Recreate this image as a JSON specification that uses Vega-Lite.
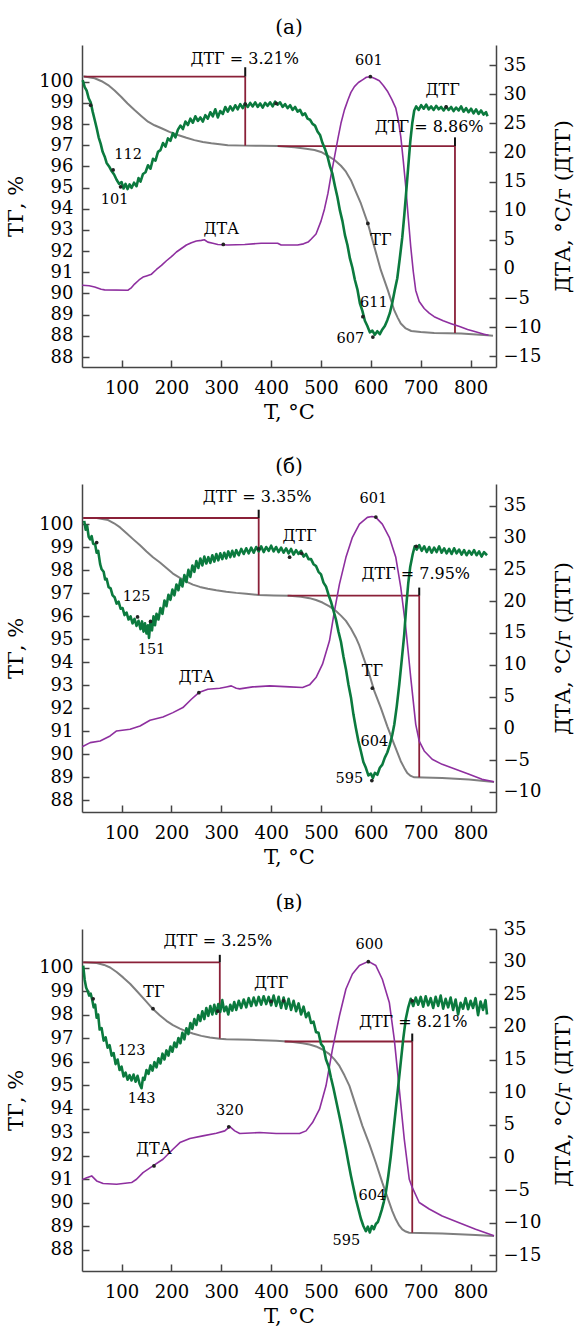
{
"$schema": "https://vega.github.io/schema/vega-lite/v6.json",
"background": "white",
"padding": {"left": 5, "top": 18, "right": 0, "bottom": 0},
"autosize": {"type": "pad"},
"spacing": 117,
"bounds": "flush",
"config": {
  "font": "DejaVu Serif",
  "view": {"stroke": null},
  "axis": {"domainColor": "#444", "tickColor": "#444", "domainWidth": 1.5, "tickWidth": 1.5, "labelColor": "#000", "titleColor": "#000", "labelFontSize": 18, "titleFontSize": 21, "titleFontWeight": "normal", "tickSize": -7, "grid": false, "labelFont": "DejaVu Serif", "titleFont": "DejaVu Serif", "labelOverlap": false, "labelBound": false, "labelFlush": false, "tickCount": 60, "format": "d"},
  "axisX": {"labelPadding": 19, "titlePadding": 4},
  "axisLeft": {"labelPadding": 16, "titlePadding": 12},
  "axisRight": {"labelPadding": 14, "titlePadding": 12, "titleAngle": 270, "titleBaseline": "top"},
  "title": {"fontSize": 20, "fontWeight": "normal", "font": "DejaVu Serif", "color": "#000", "frame": "group", "anchor": "middle", "offset": 7},
  "text": {"font": "DejaVu Serif", "color": "#000", "baseline": "middle"},
  "line": {"strokeJoin": "round"}
},
"datasets": {
"a_tg": [{"T":22,"v":100.24},{"T":25,"v":100.24},{"T":46,"v":100.16},{"T":60,"v":100.02},{"T":73,"v":99.84},{"T":86,"v":99.58},{"T":99,"v":99.29},{"T":112,"v":98.97},{"T":126,"v":98.66},{"T":140,"v":98.37},{"T":153,"v":98.11},{"T":166,"v":97.94},{"T":180,"v":97.8},{"T":196,"v":97.63},{"T":213,"v":97.48},{"T":230,"v":97.35},{"T":246,"v":97.24},{"T":263,"v":97.15},{"T":280,"v":97.09},{"T":297,"v":97.04},{"T":313,"v":97.0},{"T":347,"v":96.98},{"T":380,"v":96.97},{"T":413,"v":96.96},{"T":447,"v":96.9},{"T":470,"v":96.83},{"T":487,"v":96.77},{"T":500,"v":96.68},{"T":514,"v":96.5},{"T":527,"v":96.3},{"T":540,"v":96.03},{"T":550,"v":95.75},{"T":560,"v":95.35},{"T":570,"v":94.8},{"T":580,"v":94.25},{"T":594,"v":93.31},{"T":607,"v":92.2},{"T":620,"v":91.1},{"T":634,"v":90.16},{"T":647,"v":89.2},{"T":654,"v":88.85},{"T":660,"v":88.58},{"T":670,"v":88.35},{"T":681,"v":88.23},{"T":700,"v":88.18},{"T":727,"v":88.14},{"T":781,"v":88.11},{"T":834,"v":88.03},{"T":845,"v":88.0}],
"a_dta": [{"T":21,"v":-2.8},{"T":35,"v":-2.9},{"T":46,"v":-3.1},{"T":59,"v":-3.5},{"T":66,"v":-3.6},{"T":113,"v":-3.66},{"T":120,"v":-3.2},{"T":126,"v":-2.6},{"T":135,"v":-1.9},{"T":143,"v":-1.4},{"T":150,"v":-1.2},{"T":160,"v":-0.9},{"T":170,"v":-0.1},{"T":180,"v":0.6},{"T":190,"v":1.4},{"T":200,"v":2.1},{"T":210,"v":2.9},{"T":220,"v":3.5},{"T":230,"v":4.1},{"T":240,"v":4.5},{"T":250,"v":4.8},{"T":260,"v":4.9},{"T":266,"v":5.0},{"T":273,"v":4.6},{"T":283,"v":4.4},{"T":293,"v":4.2},{"T":313,"v":4.1},{"T":347,"v":4.2},{"T":380,"v":4.4},{"T":413,"v":4.4},{"T":420,"v":4.1},{"T":453,"v":4.1},{"T":465,"v":4.3},{"T":474,"v":4.6},{"T":480,"v":5.1},{"T":490,"v":6.0},{"T":500,"v":8.2},{"T":507,"v":10.3},{"T":514,"v":13.0},{"T":520,"v":16.0},{"T":527,"v":19.2},{"T":534,"v":22.4},{"T":540,"v":25.0},{"T":547,"v":27.3},{"T":554,"v":29.0},{"T":560,"v":30.3},{"T":567,"v":31.3},{"T":575,"v":32.0},{"T":584,"v":32.5},{"T":591,"v":32.9},{"T":599,"v":33.0},{"T":608,"v":32.7},{"T":617,"v":32.3},{"T":625,"v":31.5},{"T":634,"v":30.4},{"T":642,"v":29.1},{"T":650,"v":27.6},{"T":655,"v":25.6},{"T":660,"v":22.7},{"T":665,"v":18.6},{"T":670,"v":14.1},{"T":675,"v":8.8},{"T":680,"v":3.8},{"T":685,"v":-0.4},{"T":690,"v":-3.7},{"T":697,"v":-5.6},{"T":707,"v":-6.8},{"T":717,"v":-7.6},{"T":727,"v":-8.2},{"T":745,"v":-8.9},{"T":761,"v":-9.4},{"T":778,"v":-9.9},{"T":794,"v":-10.4},{"T":810,"v":-10.8},{"T":827,"v":-11.2},{"T":836,"v":-11.4}],
"a_dtg": [{"T":22,"v":32.4},{"T":26,"v":31.2},{"T":30,"v":30.6},{"T":34,"v":29.3},{"T":38,"v":28.6},{"T":42,"v":27.0},{"T":46,"v":25.6},{"T":50,"v":24.2},{"T":54,"v":22.6},{"T":58,"v":21.5},{"T":62,"v":20.1},{"T":66,"v":19.3},{"T":70,"v":18.2},{"T":75,"v":17.6},{"T":80,"v":16.8},{"T":85,"v":16.2},{"T":90,"v":15.3},{"T":95,"v":14.6},{"T":100,"v":14.9},{"T":104,"v":13.8},{"T":108,"v":14.6},{"T":112,"v":13.7},{"T":116,"v":14.5},{"T":120,"v":13.9},{"T":125,"v":14.8},{"T":130,"v":14.2},{"T":134,"v":15.6},{"T":138,"v":15.0},{"T":143,"v":16.3},{"T":148,"v":16.6},{"T":153,"v":17.8},{"T":158,"v":17.2},{"T":163,"v":18.9},{"T":168,"v":18.6},{"T":173,"v":20.1},{"T":178,"v":20.4},{"T":183,"v":21.6},{"T":188,"v":21.0},{"T":193,"v":22.4},{"T":198,"v":22.0},{"T":203,"v":23.3},{"T":208,"v":22.6},{"T":213,"v":23.9},{"T":218,"v":24.6},{"T":223,"v":24.0},{"T":228,"v":25.3},{"T":233,"v":24.7},{"T":238,"v":25.8},{"T":243,"v":25.1},{"T":248,"v":26.2},{"T":253,"v":25.4},{"T":258,"v":26.0},{"T":263,"v":25.3},{"T":268,"v":26.4},{"T":273,"v":25.8},{"T":278,"v":26.9},{"T":283,"v":26.2},{"T":288,"v":27.4},{"T":293,"v":26.0},{"T":298,"v":27.1},{"T":303,"v":26.6},{"T":308,"v":27.8},{"T":313,"v":27.0},{"T":318,"v":27.9},{"T":323,"v":27.2},{"T":328,"v":28.1},{"T":333,"v":27.4},{"T":338,"v":28.3},{"T":343,"v":27.6},{"T":348,"v":28.4},{"T":353,"v":27.8},{"T":358,"v":28.5},{"T":363,"v":27.9},{"T":368,"v":28.6},{"T":373,"v":27.8},{"T":378,"v":28.4},{"T":383,"v":27.7},{"T":388,"v":28.5},{"T":393,"v":28.0},{"T":398,"v":28.6},{"T":403,"v":27.9},{"T":408,"v":28.7},{"T":413,"v":28.2},{"T":418,"v":28.6},{"T":423,"v":27.8},{"T":428,"v":28.3},{"T":433,"v":27.6},{"T":438,"v":28.1},{"T":443,"v":27.3},{"T":448,"v":27.8},{"T":453,"v":27.0},{"T":458,"v":27.3},{"T":463,"v":26.4},{"T":468,"v":26.7},{"T":473,"v":25.8},{"T":478,"v":25.6},{"T":483,"v":24.9},{"T":488,"v":24.6},{"T":493,"v":23.6},{"T":498,"v":23.0},{"T":503,"v":21.6},{"T":508,"v":20.6},{"T":513,"v":19.3},{"T":518,"v":17.6},{"T":523,"v":16.3},{"T":528,"v":14.2},{"T":533,"v":12.3},{"T":538,"v":10.0},{"T":543,"v":8.2},{"T":548,"v":5.8},{"T":553,"v":4.1},{"T":558,"v":1.8},{"T":563,"v":0.2},{"T":568,"v":-1.9},{"T":573,"v":-3.5},{"T":578,"v":-5.9},{"T":583,"v":-7.2},{"T":588,"v":-8.9},{"T":593,"v":-9.8},{"T":598,"v":-10.9},{"T":603,"v":-10.6},{"T":608,"v":-11.3},{"T":613,"v":-10.7},{"T":618,"v":-11.2},{"T":623,"v":-10.4},{"T":628,"v":-9.8},{"T":633,"v":-8.8},{"T":638,"v":-7.6},{"T":643,"v":-5.8},{"T":648,"v":-3.6},{"T":653,"v":-1.6},{"T":658,"v":1.8},{"T":663,"v":5.4},{"T":667,"v":9.2},{"T":671,"v":13.3},{"T":675,"v":17.6},{"T":679,"v":21.8},{"T":683,"v":25.0},{"T":687,"v":27.2},{"T":691,"v":27.9},{"T":696,"v":27.3},{"T":701,"v":28.1},{"T":706,"v":27.5},{"T":711,"v":28.2},{"T":716,"v":27.4},{"T":721,"v":27.9},{"T":726,"v":27.3},{"T":731,"v":28.0},{"T":736,"v":27.4},{"T":741,"v":27.8},{"T":746,"v":27.2},{"T":751,"v":27.9},{"T":756,"v":27.3},{"T":761,"v":27.8},{"T":766,"v":27.1},{"T":771,"v":27.7},{"T":776,"v":27.2},{"T":781,"v":27.9},{"T":786,"v":27.0},{"T":791,"v":27.6},{"T":796,"v":26.9},{"T":801,"v":27.5},{"T":806,"v":26.7},{"T":811,"v":27.4},{"T":816,"v":26.6},{"T":821,"v":27.2},{"T":826,"v":26.5},{"T":831,"v":26.9},{"T":834,"v":26.2}],
"a_rule": [{"x1":24.6,"x2":348,"y1":100.24,"y2":100.24},{"x1":348,"x2":348,"y1":100.24,"y2":96.98},{"x1":413,"x2":768.7,"y1":96.96,"y2":96.96},{"x1":768.7,"x2":768.7,"y1":96.96,"y2":88.14}],
"a_tick": [{"x1":348,"x2":348,"y1":100.24,"y2":100.68},{"x1":768.7,"x2":768.7,"y1":96.96,"y2":97.37}],
"a_txt": [{"T":596,"v":35.7,"t":"601","k":"n"},{"T":113,"v":19.5,"t":"112","k":"n"},{"T":86,"v":11.8,"t":"101","k":"n"},{"T":606,"v":-5.9,"t":"611","k":"n"},{"T":559,"v":-12.1,"t":"607","k":"n"},{"T":347,"v":36.1,"t":"ДТГ = 3.21%","k":"w"},{"T":717,"v":24.4,"t":"ДТГ = 8.86%","k":"w"},{"T":744,"v":30.7,"t":"ДТГ","k":"w"},{"T":300,"v":6.9,"t":"ДТА","k":"w"},{"T":620,"v":4.9,"t":"ТГ","k":"w"}],
"a_pt": [{"T":38,"v":28.1},{"T":98,"v":14.1},{"T":83,"v":17.0},{"T":348,"v":28.3},{"T":410,"v":28.4},{"T":304,"v":4.2},{"T":599,"v":33.0},{"T":751,"v":27.8},{"T":604,"v":-11.7},{"T":584,"v":-8.2},{"T":594,"v":7.8}],
"b_tg": [{"T":23,"v":100.28},{"T":50,"v":100.28},{"T":73,"v":100.19},{"T":85,"v":100.05},{"T":97,"v":99.87},{"T":110,"v":99.62},{"T":123,"v":99.36},{"T":137,"v":99.09},{"T":150,"v":98.82},{"T":163,"v":98.57},{"T":177,"v":98.34},{"T":190,"v":98.1},{"T":203,"v":97.86},{"T":217,"v":97.67},{"T":230,"v":97.51},{"T":243,"v":97.38},{"T":257,"v":97.28},{"T":273,"v":97.2},{"T":290,"v":97.13},{"T":310,"v":97.07},{"T":330,"v":97.02},{"T":350,"v":96.98},{"T":375,"v":96.93},{"T":405,"v":96.91},{"T":437,"v":96.9},{"T":460,"v":96.85},{"T":477,"v":96.79},{"T":490,"v":96.71},{"T":503,"v":96.6},{"T":517,"v":96.43},{"T":530,"v":96.23},{"T":540,"v":96.03},{"T":550,"v":95.8},{"T":560,"v":95.47},{"T":570,"v":95.07},{"T":577,"v":94.72},{"T":583,"v":94.34},{"T":590,"v":93.9},{"T":597,"v":93.47},{"T":607,"v":92.74},{"T":620,"v":92.01},{"T":633,"v":91.21},{"T":647,"v":90.41},{"T":660,"v":89.69},{"T":667,"v":89.4},{"T":673,"v":89.18},{"T":680,"v":89.05},{"T":687,"v":88.99},{"T":743,"v":88.96},{"T":797,"v":88.89},{"T":847,"v":88.79}],
"b_dta": [{"T":21,"v":-2.9},{"T":37,"v":-2.25},{"T":57,"v":-1.99},{"T":77,"v":-1.2},{"T":90,"v":-0.41},{"T":117,"v":-0.15},{"T":137,"v":0.37},{"T":157,"v":1.26},{"T":183,"v":1.79},{"T":203,"v":2.47},{"T":223,"v":3.26},{"T":240,"v":4.57},{"T":255,"v":5.62},{"T":273,"v":6.14},{"T":297,"v":6.3},{"T":310,"v":6.5},{"T":320,"v":6.67},{"T":330,"v":6.3},{"T":337,"v":6.2},{"T":363,"v":6.51},{"T":397,"v":6.67},{"T":437,"v":6.51},{"T":463,"v":6.41},{"T":477,"v":6.83},{"T":490,"v":7.98},{"T":503,"v":10.08},{"T":517,"v":13.75},{"T":527,"v":18.47},{"T":537,"v":22.67},{"T":550,"v":26.87},{"T":563,"v":30.02},{"T":577,"v":32.1},{"T":593,"v":33.16},{"T":602,"v":33.3},{"T":610,"v":33.16},{"T":623,"v":32.1},{"T":637,"v":30.02},{"T":650,"v":26.87},{"T":660,"v":22.15},{"T":670,"v":15.85},{"T":680,"v":7.98},{"T":690,"v":0.63},{"T":697,"v":-2.0},{"T":707,"v":-3.56},{"T":723,"v":-4.87},{"T":743,"v":-5.66},{"T":770,"v":-6.45},{"T":797,"v":-7.23},{"T":823,"v":-8.02},{"T":847,"v":-8.39}],
"b_dtg": [{"T":25,"v":32.6},{"T":28,"v":31.2},{"T":31,"v":31.8},{"T":34,"v":30.1},{"T":37,"v":29.7},{"T":40,"v":30.2},{"T":43,"v":29.0},{"T":47,"v":28.9},{"T":50,"v":27.6},{"T":53,"v":27.9},{"T":57,"v":25.8},{"T":60,"v":25.0},{"T":64,"v":24.6},{"T":67,"v":23.4},{"T":70,"v":23.5},{"T":74,"v":22.2},{"T":78,"v":22.0},{"T":82,"v":20.9},{"T":86,"v":20.6},{"T":90,"v":19.6},{"T":94,"v":19.9},{"T":98,"v":18.8},{"T":102,"v":18.9},{"T":106,"v":17.8},{"T":110,"v":18.2},{"T":114,"v":17.1},{"T":118,"v":17.6},{"T":122,"v":16.5},{"T":126,"v":17.2},{"T":130,"v":16.1},{"T":134,"v":16.9},{"T":138,"v":15.6},{"T":141,"v":16.8},{"T":144,"v":15.2},{"T":147,"v":16.5},{"T":150,"v":14.9},{"T":153,"v":16.2},{"T":155,"v":14.2},{"T":158,"v":16.8},{"T":161,"v":15.4},{"T":164,"v":17.6},{"T":167,"v":16.2},{"T":170,"v":18.0},{"T":174,"v":17.1},{"T":178,"v":18.9},{"T":182,"v":18.0},{"T":186,"v":20.1},{"T":190,"v":19.2},{"T":194,"v":21.0},{"T":198,"v":20.2},{"T":202,"v":21.8},{"T":206,"v":20.9},{"T":210,"v":22.6},{"T":214,"v":21.7},{"T":218,"v":23.4},{"T":222,"v":22.3},{"T":226,"v":24.1},{"T":230,"v":23.0},{"T":234,"v":24.9},{"T":238,"v":23.8},{"T":242,"v":25.6},{"T":246,"v":24.6},{"T":250,"v":26.3},{"T":254,"v":25.2},{"T":258,"v":26.7},{"T":262,"v":25.6},{"T":266,"v":27.0},{"T":270,"v":25.9},{"T":274,"v":26.9},{"T":278,"v":26.0},{"T":282,"v":27.2},{"T":286,"v":26.2},{"T":290,"v":27.4},{"T":294,"v":26.4},{"T":298,"v":27.5},{"T":302,"v":26.6},{"T":306,"v":27.6},{"T":310,"v":26.7},{"T":314,"v":27.8},{"T":318,"v":26.9},{"T":322,"v":27.9},{"T":326,"v":27.0},{"T":330,"v":28.0},{"T":335,"v":27.2},{"T":340,"v":28.2},{"T":345,"v":27.4},{"T":350,"v":28.3},{"T":355,"v":27.5},{"T":360,"v":28.4},{"T":365,"v":27.6},{"T":370,"v":28.5},{"T":375,"v":27.8},{"T":380,"v":28.6},{"T":385,"v":27.7},{"T":390,"v":28.5},{"T":395,"v":27.9},{"T":400,"v":28.7},{"T":405,"v":27.8},{"T":410,"v":28.5},{"T":415,"v":27.7},{"T":420,"v":28.4},{"T":425,"v":27.6},{"T":430,"v":28.3},{"T":435,"v":27.5},{"T":440,"v":28.2},{"T":445,"v":27.3},{"T":450,"v":28.0},{"T":455,"v":27.4},{"T":460,"v":27.9},{"T":465,"v":27.0},{"T":470,"v":27.4},{"T":475,"v":26.6},{"T":480,"v":26.6},{"T":485,"v":25.8},{"T":490,"v":25.5},{"T":495,"v":24.6},{"T":500,"v":24.2},{"T":505,"v":22.9},{"T":510,"v":22.3},{"T":515,"v":21.0},{"T":520,"v":19.9},{"T":525,"v":18.5},{"T":530,"v":17.1},{"T":535,"v":15.2},{"T":540,"v":13.6},{"T":545,"v":11.3},{"T":550,"v":9.3},{"T":555,"v":6.9},{"T":560,"v":4.9},{"T":565,"v":2.2},{"T":570,"v":0.0},{"T":575,"v":-2.0},{"T":580,"v":-3.6},{"T":585,"v":-5.3},{"T":590,"v":-6.2},{"T":595,"v":-7.4},{"T":600,"v":-7.1},{"T":604,"v":-7.8},{"T":608,"v":-7.0},{"T":613,"v":-7.3},{"T":618,"v":-6.2},{"T":623,"v":-5.7},{"T":628,"v":-4.6},{"T":633,"v":-3.8},{"T":638,"v":-2.6},{"T":643,"v":-1.0},{"T":647,"v":0.6},{"T":652,"v":3.5},{"T":657,"v":6.9},{"T":662,"v":10.8},{"T":667,"v":14.8},{"T":671,"v":19.2},{"T":675,"v":22.8},{"T":679,"v":25.4},{"T":684,"v":27.4},{"T":688,"v":28.6},{"T":692,"v":28.1},{"T":697,"v":28.8},{"T":702,"v":27.9},{"T":707,"v":28.6},{"T":712,"v":27.7},{"T":717,"v":28.5},{"T":722,"v":27.6},{"T":727,"v":28.4},{"T":732,"v":27.7},{"T":737,"v":28.6},{"T":742,"v":27.6},{"T":747,"v":28.3},{"T":752,"v":27.5},{"T":757,"v":28.2},{"T":762,"v":27.4},{"T":767,"v":28.3},{"T":772,"v":27.5},{"T":777,"v":28.1},{"T":782,"v":27.3},{"T":787,"v":28.0},{"T":792,"v":27.2},{"T":797,"v":27.9},{"T":802,"v":27.3},{"T":807,"v":28.0},{"T":812,"v":27.2},{"T":817,"v":27.8},{"T":822,"v":27.0},{"T":827,"v":27.7},{"T":833,"v":27.2}],
"b_rule": [{"x1":23,"x2":375,"y1":100.28,"y2":100.28},{"x1":375,"x2":375,"y1":100.28,"y2":96.93},{"x1":433,"x2":697,"y1":96.9,"y2":96.9},{"x1":697,"x2":697,"y1":96.9,"y2":88.99}],
"b_tick": [{"x1":375,"x2":375,"y1":100.28,"y2":100.64},{"x1":697,"x2":697,"y1":96.9,"y2":97.25}],
"b_txt": [{"T":605,"v":36.05,"t":"601","k":"n"},{"T":130,"v":20.6,"t":"125","k":"n"},{"T":160,"v":12.3,"t":"151","k":"n"},{"T":607,"v":-2.15,"t":"604","k":"n"},{"T":557,"v":-8.0,"t":"595","k":"n"},{"T":372,"v":36.4,"t":"ДТГ = 3.35%","k":"w"},{"T":690,"v":24.2,"t":"ДТГ = 7.95%","k":"w"},{"T":457,"v":30.3,"t":"ДТГ","k":"w"},{"T":250,"v":8.1,"t":"ДТА","k":"w"},{"T":603,"v":9.0,"t":"ТГ","k":"w"}],
"b_pt": [{"T":50,"v":29.2},{"T":132,"v":17.5},{"T":158,"v":16.8},{"T":375,"v":28.2},{"T":437,"v":26.9},{"T":461,"v":27.5},{"T":610,"v":33.2},{"T":603,"v":6.3},{"T":255,"v":5.6},{"T":691,"v":28.6},{"T":602,"v":-8.2}],
"c_tg": [{"T":23,"v":100.23},{"T":50,"v":100.2},{"T":65,"v":100.12},{"T":77,"v":100.01},{"T":90,"v":99.82},{"T":103,"v":99.59},{"T":117,"v":99.32},{"T":130,"v":99.02},{"T":147,"v":98.62},{"T":163,"v":98.24},{"T":177,"v":97.97},{"T":190,"v":97.74},{"T":203,"v":97.56},{"T":217,"v":97.41},{"T":230,"v":97.29},{"T":243,"v":97.2},{"T":260,"v":97.1},{"T":277,"v":97.03},{"T":297,"v":96.98},{"T":310,"v":96.96},{"T":357,"v":96.93},{"T":410,"v":96.89},{"T":440,"v":96.85},{"T":463,"v":96.79},{"T":477,"v":96.73},{"T":490,"v":96.65},{"T":503,"v":96.52},{"T":517,"v":96.32},{"T":527,"v":96.1},{"T":537,"v":95.82},{"T":547,"v":95.42},{"T":557,"v":94.97},{"T":570,"v":94.12},{"T":583,"v":93.27},{"T":597,"v":92.49},{"T":610,"v":91.7},{"T":623,"v":90.85},{"T":637,"v":90.0},{"T":643,"v":89.64},{"T":650,"v":89.29},{"T":657,"v":89.02},{"T":663,"v":88.86},{"T":670,"v":88.77},{"T":677,"v":88.72},{"T":743,"v":88.69},{"T":810,"v":88.62},{"T":847,"v":88.58}],
"c_dta": [{"T":21,"v":-3.4},{"T":30,"v":-3.1},{"T":40,"v":-2.83},{"T":50,"v":-3.6},{"T":63,"v":-4.0},{"T":90,"v":-4.1},{"T":120,"v":-3.85},{"T":130,"v":-3.34},{"T":143,"v":-2.32},{"T":163,"v":-1.3},{"T":183,"v":-0.28},{"T":203,"v":1.26},{"T":217,"v":2.28},{"T":237,"v":2.89},{"T":263,"v":3.3},{"T":290,"v":3.71},{"T":307,"v":4.07},{"T":317,"v":4.73},{"T":327,"v":4.07},{"T":337,"v":3.66},{"T":377,"v":3.81},{"T":410,"v":3.66},{"T":457,"v":3.66},{"T":470,"v":4.07},{"T":483,"v":5.35},{"T":497,"v":7.39},{"T":510,"v":10.97},{"T":523,"v":16.6},{"T":537,"v":21.7},{"T":550,"v":25.8},{"T":563,"v":28.1},{"T":577,"v":29.4},{"T":595,"v":30.04},{"T":610,"v":29.4},{"T":623,"v":27.3},{"T":637,"v":23.75},{"T":647,"v":18.1},{"T":657,"v":10.46},{"T":667,"v":2.8},{"T":677,"v":-3.34},{"T":683,"v":-4.6},{"T":697,"v":-6.9},{"T":717,"v":-7.9},{"T":743,"v":-8.97},{"T":777,"v":-10.0},{"T":810,"v":-11.0},{"T":847,"v":-12.0}],
"c_dtg": [{"T":23,"v":29.4},{"T":26,"v":27.2},{"T":29,"v":26.0},{"T":32,"v":25.5},{"T":35,"v":24.8},{"T":38,"v":25.1},{"T":41,"v":24.2},{"T":44,"v":23.0},{"T":47,"v":23.4},{"T":50,"v":21.4},{"T":53,"v":21.9},{"T":56,"v":19.6},{"T":60,"v":19.8},{"T":64,"v":17.9},{"T":68,"v":18.4},{"T":72,"v":16.8},{"T":76,"v":17.2},{"T":80,"v":15.6},{"T":84,"v":16.0},{"T":88,"v":14.3},{"T":92,"v":15.0},{"T":96,"v":13.4},{"T":100,"v":13.9},{"T":104,"v":12.4},{"T":108,"v":13.0},{"T":112,"v":11.9},{"T":116,"v":12.6},{"T":120,"v":11.8},{"T":124,"v":12.7},{"T":128,"v":11.6},{"T":132,"v":12.5},{"T":136,"v":11.3},{"T":140,"v":10.6},{"T":143,"v":12.2},{"T":146,"v":11.9},{"T":150,"v":13.4},{"T":154,"v":12.8},{"T":158,"v":14.1},{"T":162,"v":13.3},{"T":166,"v":14.6},{"T":170,"v":13.8},{"T":174,"v":15.2},{"T":178,"v":14.4},{"T":182,"v":15.9},{"T":186,"v":15.0},{"T":190,"v":16.4},{"T":194,"v":15.6},{"T":198,"v":17.0},{"T":202,"v":16.2},{"T":206,"v":17.6},{"T":210,"v":16.9},{"T":214,"v":18.3},{"T":218,"v":17.5},{"T":222,"v":19.1},{"T":226,"v":18.1},{"T":230,"v":19.8},{"T":234,"v":18.9},{"T":238,"v":20.6},{"T":242,"v":19.7},{"T":246,"v":21.2},{"T":250,"v":20.3},{"T":254,"v":21.8},{"T":258,"v":20.9},{"T":262,"v":22.4},{"T":266,"v":21.2},{"T":270,"v":22.9},{"T":274,"v":21.7},{"T":278,"v":23.2},{"T":282,"v":21.9},{"T":286,"v":23.4},{"T":290,"v":22.0},{"T":294,"v":23.5},{"T":298,"v":22.3},{"T":302,"v":24.1},{"T":306,"v":22.4},{"T":310,"v":23.1},{"T":314,"v":21.9},{"T":318,"v":23.4},{"T":322,"v":22.5},{"T":326,"v":23.8},{"T":330,"v":22.6},{"T":335,"v":24.0},{"T":340,"v":22.9},{"T":345,"v":24.2},{"T":350,"v":23.0},{"T":355,"v":24.4},{"T":360,"v":23.2},{"T":365,"v":24.5},{"T":370,"v":23.3},{"T":375,"v":24.6},{"T":380,"v":23.4},{"T":385,"v":24.7},{"T":390,"v":23.5},{"T":395,"v":24.6},{"T":400,"v":23.3},{"T":405,"v":24.8},{"T":410,"v":23.2},{"T":415,"v":24.6},{"T":420,"v":22.9},{"T":425,"v":24.5},{"T":430,"v":22.8},{"T":435,"v":24.3},{"T":440,"v":22.6},{"T":445,"v":24.0},{"T":450,"v":22.4},{"T":455,"v":23.6},{"T":460,"v":21.9},{"T":465,"v":23.1},{"T":470,"v":21.5},{"T":475,"v":22.2},{"T":480,"v":20.6},{"T":485,"v":20.8},{"T":490,"v":19.2},{"T":495,"v":19.1},{"T":500,"v":17.4},{"T":505,"v":16.9},{"T":510,"v":15.0},{"T":515,"v":14.0},{"T":520,"v":12.2},{"T":525,"v":10.6},{"T":530,"v":8.8},{"T":535,"v":7.0},{"T":540,"v":5.2},{"T":545,"v":3.2},{"T":550,"v":1.3},{"T":555,"v":-0.8},{"T":560,"v":-2.8},{"T":565,"v":-4.6},{"T":570,"v":-6.4},{"T":575,"v":-7.9},{"T":580,"v":-9.4},{"T":585,"v":-10.5},{"T":590,"v":-11.3},{"T":594,"v":-10.6},{"T":598,"v":-11.5},{"T":602,"v":-10.5},{"T":606,"v":-11.0},{"T":610,"v":-10.2},{"T":614,"v":-9.9},{"T":618,"v":-9.0},{"T":622,"v":-8.0},{"T":626,"v":-6.8},{"T":630,"v":-5.4},{"T":635,"v":-2.8},{"T":640,"v":0.2},{"T":645,"v":3.8},{"T":650,"v":7.4},{"T":655,"v":11.0},{"T":660,"v":14.6},{"T":665,"v":18.2},{"T":670,"v":21.2},{"T":675,"v":23.0},{"T":680,"v":24.3},{"T":685,"v":23.2},{"T":690,"v":24.5},{"T":695,"v":23.4},{"T":700,"v":24.6},{"T":705,"v":23.1},{"T":710,"v":24.7},{"T":715,"v":23.3},{"T":720,"v":24.4},{"T":725,"v":22.9},{"T":730,"v":24.6},{"T":735,"v":23.2},{"T":740,"v":24.8},{"T":745,"v":22.8},{"T":750,"v":24.3},{"T":755,"v":23.0},{"T":760,"v":24.5},{"T":765,"v":22.6},{"T":770,"v":24.2},{"T":775,"v":21.9},{"T":780,"v":23.7},{"T":785,"v":22.8},{"T":790,"v":24.4},{"T":795,"v":22.7},{"T":800,"v":24.0},{"T":805,"v":22.9},{"T":810,"v":24.4},{"T":815,"v":21.8},{"T":820,"v":23.9},{"T":825,"v":22.6},{"T":830,"v":24.1},{"T":833,"v":21.9}],
"c_rule": [{"x1":23,"x2":297,"y1":100.23,"y2":100.23},{"x1":297,"x2":297,"y1":100.23,"y2":96.99},{"x1":427,"x2":683,"y1":96.86,"y2":96.86},{"x1":683,"x2":683,"y1":96.86,"y2":88.72}],
"c_tick": [{"x1":297,"x2":297,"y1":100.23,"y2":100.55},{"x1":683,"x2":683,"y1":96.86,"y2":97.2}],
"c_txt": [{"T":597,"v":32.5,"t":"600","k":"n"},{"T":120,"v":16.3,"t":"123","k":"n"},{"T":140,"v":8.9,"t":"143","k":"n"},{"T":317,"v":7.1,"t":"320","k":"n"},{"T":603,"v":-5.9,"t":"604","k":"n"},{"T":551,"v":-12.8,"t":"595","k":"n"},{"T":293,"v":33.1,"t":"ДТГ = 3.25%","k":"w"},{"T":685,"v":20.7,"t":"ДТГ = 8.21%","k":"w"},{"T":400,"v":26.7,"t":"ДТГ","k":"w"},{"T":165,"v":25.4,"t":"ТГ","k":"w"},{"T":165,"v":1.25,"t":"ДТА","k":"w"}],
"c_pt": [{"T":43,"v":24.3},{"T":163,"v":22.8},{"T":293,"v":22.4},{"T":400,"v":23.9},{"T":425,"v":24.0},{"T":595,"v":30.0},{"T":683,"v":24.0},{"T":165,"v":-1.3},{"T":315,"v":4.7}]
},
"vconcat": [
{
 "title": {"text": "(а)"},
 "width": 414, "height": 322,
 "resolve": {"scale": {"y": "independent"}},
 "layer": [
  {"layer": [
   {"data": {"name": "a_tg"}, "mark": {"type": "line", "color": "#7f7f7f", "strokeWidth": 2},
    "encoding": {"x": {"field": "T", "type": "quantitative", "title": "T, °C", "scale": {"domain": [20.6, 851], "nice": false, "zero": false}, "axis": {"values": [100,200,300,400,500,600,700,800], "tickCount": 60, "format": "d", "labelOverlap": false}},
                 "y": {"field": "v", "type": "quantitative", "title": "ТГ, %", "scale": {"domain": [86.53, 101.73], "nice": false, "zero": false}, "axis": {"orient": "left", "tickCount": 60, "format": "d", "labelOverlap": false, "values": [87,88,89,90,91,92,93,94,95,96,97,98,99,100], "labelExpr": "datum.value == 87 ? '88' : datum.label"}}}},
   {"data": {"name": "a_rule"}, "mark": {"type": "rule", "color": "#8a2038", "strokeWidth": 1.8},
    "encoding": {"x": {"field": "x1", "type": "quantitative", "title": "T, °C", "scale": {"domain": [20.6, 851], "nice": false, "zero": false}}, "x2": {"field": "x2"},
                 "y": {"field": "y1", "type": "quantitative", "title": "ТГ, %", "scale": {"domain": [86.53, 101.73], "nice": false, "zero": false}}, "y2": {"field": "y2"}}},
   {"data": {"name": "a_tick"}, "mark": {"type": "rule", "color": "#111", "strokeWidth": 2},
    "encoding": {"x": {"field": "x1", "type": "quantitative", "title": "T, °C", "scale": {"domain": [20.6, 851], "nice": false, "zero": false}}, "x2": {"field": "x2"},
                 "y": {"field": "y1", "type": "quantitative", "title": "ТГ, %", "scale": {"domain": [86.53, 101.73], "nice": false, "zero": false}}, "y2": {"field": "y2"}}}
  ]},
  {"layer": [
   {"data": {"name": "a_dta"}, "mark": {"type": "line", "color": "#8e2f9f", "strokeWidth": 1.6},
    "encoding": {"x": {"field": "T", "type": "quantitative", "title": "T, °C", "scale": {"domain": [20.6, 851], "nice": false, "zero": false}},
                 "y": {"field": "v", "type": "quantitative", "title": "ДТА, °C/г (ДТГ)", "scale": {"domain": [-16.84, 38.44], "nice": false, "zero": false}, "axis": {"orient": "right", "tickCount": 60, "format": "d", "labelOverlap": false, "values": [-15,-10,-5,0,5,10,15,20,25,30,35]}}}},
   {"data": {"name": "a_dtg"}, "mark": {"type": "line", "color": "#0b7a3e", "strokeWidth": 2.6},
    "encoding": {"x": {"field": "T", "type": "quantitative", "title": "T, °C", "scale": {"domain": [20.6, 851], "nice": false, "zero": false}},
                 "y": {"field": "v", "type": "quantitative", "title": "ДТА, °C/г (ДТГ)", "scale": {"domain": [-16.84, 38.44], "nice": false, "zero": false}}}},
   {"data": {"name": "a_pt"}, "mark": {"type": "point", "filled": true, "color": "#222", "size": 14, "opacity": 1},
    "encoding": {"x": {"field": "T", "type": "quantitative", "title": "T, °C", "scale": {"domain": [20.6, 851], "nice": false, "zero": false}},
                 "y": {"field": "v", "type": "quantitative", "title": "ДТА, °C/г (ДТГ)", "scale": {"domain": [-16.84, 38.44], "nice": false, "zero": false}}}},
   {"data": {"name": "a_txt"}, "transform": [{"filter": "datum.k == 'n'"}], "mark": {"type": "text", "fontSize": 14.5},
    "encoding": {"x": {"field": "T", "type": "quantitative", "title": "T, °C", "scale": {"domain": [20.6, 851], "nice": false, "zero": false}},
                 "y": {"field": "v", "type": "quantitative", "title": "ДТА, °C/г (ДТГ)", "scale": {"domain": [-16.84, 38.44], "nice": false, "zero": false}}, "text": {"field": "t"}}},
   {"data": {"name": "a_txt"}, "transform": [{"filter": "datum.k == 'w'"}], "mark": {"type": "text", "fontSize": 16},
    "encoding": {"x": {"field": "T", "type": "quantitative", "title": "T, °C", "scale": {"domain": [20.6, 851], "nice": false, "zero": false}},
                 "y": {"field": "v", "type": "quantitative", "title": "ДТА, °C/г (ДТГ)", "scale": {"domain": [-16.84, 38.44], "nice": false, "zero": false}}, "text": {"field": "t"}}}
  ]}
 ]
},
{
 "title": {"text": "(б)"},
 "width": 414, "height": 328,
 "resolve": {"scale": {"y": "independent"}},
 "layer": [
  {"layer": [
   {"data": {"name": "b_tg"}, "mark": {"type": "line", "color": "#7f7f7f", "strokeWidth": 2},
    "encoding": {"x": {"field": "T", "type": "quantitative", "title": "T, °C", "scale": {"domain": [20.6, 851], "nice": false, "zero": false}, "axis": {"values": [100,200,300,400,500,600,700,800], "tickCount": 60, "format": "d", "labelOverlap": false}},
                 "y": {"field": "v", "type": "quantitative", "title": "ТГ, %", "scale": {"domain": [87.48, 101.76], "nice": false, "zero": false}, "axis": {"orient": "left", "tickCount": 60, "format": "d", "labelOverlap": false, "values": [88,89,90,91,92,93,94,95,96,97,98,99,100]}}}},
   {"data": {"name": "b_rule"}, "mark": {"type": "rule", "color": "#8a2038", "strokeWidth": 1.8},
    "encoding": {"x": {"field": "x1", "type": "quantitative", "title": "T, °C", "scale": {"domain": [20.6, 851], "nice": false, "zero": false}}, "x2": {"field": "x2"},
                 "y": {"field": "y1", "type": "quantitative", "title": "ТГ, %", "scale": {"domain": [87.48, 101.76], "nice": false, "zero": false}}, "y2": {"field": "y2"}}},
   {"data": {"name": "b_tick"}, "mark": {"type": "rule", "color": "#111", "strokeWidth": 2},
    "encoding": {"x": {"field": "x1", "type": "quantitative", "title": "T, °C", "scale": {"domain": [20.6, 851], "nice": false, "zero": false}}, "x2": {"field": "x2"},
                 "y": {"field": "y1", "type": "quantitative", "title": "ТГ, %", "scale": {"domain": [87.48, 101.76], "nice": false, "zero": false}}, "y2": {"field": "y2"}}}
  ]},
  {"layer": [
   {"data": {"name": "b_dta"}, "mark": {"type": "line", "color": "#8e2f9f", "strokeWidth": 1.6},
    "encoding": {"x": {"field": "T", "type": "quantitative", "title": "T, °C", "scale": {"domain": [20.6, 851], "nice": false, "zero": false}},
                 "y": {"field": "v", "type": "quantitative", "title": "ДТА, °C/г (ДТГ)", "scale": {"domain": [-13.15, 38.4], "nice": false, "zero": false}, "axis": {"orient": "right", "tickCount": 60, "format": "d", "labelOverlap": false, "values": [-10,-5,0,5,10,15,20,25,30,35]}}}},
   {"data": {"name": "b_dtg"}, "mark": {"type": "line", "color": "#0b7a3e", "strokeWidth": 2.6},
    "encoding": {"x": {"field": "T", "type": "quantitative", "title": "T, °C", "scale": {"domain": [20.6, 851], "nice": false, "zero": false}},
                 "y": {"field": "v", "type": "quantitative", "title": "ДТА, °C/г (ДТГ)", "scale": {"domain": [-13.15, 38.4], "nice": false, "zero": false}}}},
   {"data": {"name": "b_pt"}, "mark": {"type": "point", "filled": true, "color": "#222", "size": 14, "opacity": 1},
    "encoding": {"x": {"field": "T", "type": "quantitative", "title": "T, °C", "scale": {"domain": [20.6, 851], "nice": false, "zero": false}},
                 "y": {"field": "v", "type": "quantitative", "title": "ДТА, °C/г (ДТГ)", "scale": {"domain": [-13.15, 38.4], "nice": false, "zero": false}}}},
   {"data": {"name": "b_txt"}, "transform": [{"filter": "datum.k == 'n'"}], "mark": {"type": "text", "fontSize": 14.5},
    "encoding": {"x": {"field": "T", "type": "quantitative", "title": "T, °C", "scale": {"domain": [20.6, 851], "nice": false, "zero": false}},
                 "y": {"field": "v", "type": "quantitative", "title": "ДТА, °C/г (ДТГ)", "scale": {"domain": [-13.15, 38.4], "nice": false, "zero": false}}, "text": {"field": "t"}}},
   {"data": {"name": "b_txt"}, "transform": [{"filter": "datum.k == 'w'"}], "mark": {"type": "text", "fontSize": 16},
    "encoding": {"x": {"field": "T", "type": "quantitative", "title": "T, °C", "scale": {"domain": [20.6, 851], "nice": false, "zero": false}},
                 "y": {"field": "v", "type": "quantitative", "title": "ДТА, °C/г (ДТГ)", "scale": {"domain": [-13.15, 38.4], "nice": false, "zero": false}}, "text": {"field": "t"}}}
  ]}
 ]
},
{
 "title": {"text": "(в)"},
 "width": 414, "height": 342,
 "resolve": {"scale": {"y": "independent"}},
 "layer": [
  {"layer": [
   {"data": {"name": "c_tg"}, "mark": {"type": "line", "color": "#7f7f7f", "strokeWidth": 2},
    "encoding": {"x": {"field": "T", "type": "quantitative", "title": "T, °C", "scale": {"domain": [20.6, 851], "nice": false, "zero": false}, "axis": {"values": [100,200,300,400,500,600,700,800], "tickCount": 60, "format": "d", "labelOverlap": false}},
                 "y": {"field": "v", "type": "quantitative", "title": "ТГ, %", "scale": {"domain": [87.09, 101.65], "nice": false, "zero": false}, "axis": {"orient": "left", "tickCount": 60, "format": "d", "labelOverlap": false, "values": [88,89,90,91,92,93,94,95,96,97,98,99,100]}}}},
   {"data": {"name": "c_rule"}, "mark": {"type": "rule", "color": "#8a2038", "strokeWidth": 1.8},
    "encoding": {"x": {"field": "x1", "type": "quantitative", "title": "T, °C", "scale": {"domain": [20.6, 851], "nice": false, "zero": false}}, "x2": {"field": "x2"},
                 "y": {"field": "y1", "type": "quantitative", "title": "ТГ, %", "scale": {"domain": [87.09, 101.65], "nice": false, "zero": false}}, "y2": {"field": "y2"}}},
   {"data": {"name": "c_tick"}, "mark": {"type": "rule", "color": "#111", "strokeWidth": 2},
    "encoding": {"x": {"field": "x1", "type": "quantitative", "title": "T, °C", "scale": {"domain": [20.6, 851], "nice": false, "zero": false}}, "x2": {"field": "x2"},
                 "y": {"field": "y1", "type": "quantitative", "title": "ТГ, %", "scale": {"domain": [87.09, 101.65], "nice": false, "zero": false}}, "y2": {"field": "y2"}}}
  ]},
  {"layer": [
   {"data": {"name": "c_dta"}, "mark": {"type": "line", "color": "#8e2f9f", "strokeWidth": 1.6},
    "encoding": {"x": {"field": "T", "type": "quantitative", "title": "T, °C", "scale": {"domain": [20.6, 851], "nice": false, "zero": false}},
                 "y": {"field": "v", "type": "quantitative", "title": "ДТА, °C/г (ДТГ)", "scale": {"domain": [-17.4, 35], "nice": false, "zero": false}, "axis": {"orient": "right", "tickCount": 60, "format": "d", "labelOverlap": false, "values": [-15,-10,-5,0,5,10,15,20,25,30,35]}}}},
   {"data": {"name": "c_dtg"}, "mark": {"type": "line", "color": "#0b7a3e", "strokeWidth": 2.6},
    "encoding": {"x": {"field": "T", "type": "quantitative", "title": "T, °C", "scale": {"domain": [20.6, 851], "nice": false, "zero": false}},
                 "y": {"field": "v", "type": "quantitative", "title": "ДТА, °C/г (ДТГ)", "scale": {"domain": [-17.4, 35], "nice": false, "zero": false}}}},
   {"data": {"name": "c_pt"}, "mark": {"type": "point", "filled": true, "color": "#222", "size": 14, "opacity": 1},
    "encoding": {"x": {"field": "T", "type": "quantitative", "title": "T, °C", "scale": {"domain": [20.6, 851], "nice": false, "zero": false}},
                 "y": {"field": "v", "type": "quantitative", "title": "ДТА, °C/г (ДТГ)", "scale": {"domain": [-17.4, 35], "nice": false, "zero": false}}}},
   {"data": {"name": "c_txt"}, "transform": [{"filter": "datum.k == 'n'"}], "mark": {"type": "text", "fontSize": 14.5},
    "encoding": {"x": {"field": "T", "type": "quantitative", "title": "T, °C", "scale": {"domain": [20.6, 851], "nice": false, "zero": false}},
                 "y": {"field": "v", "type": "quantitative", "title": "ДТА, °C/г (ДТГ)", "scale": {"domain": [-17.4, 35], "nice": false, "zero": false}}, "text": {"field": "t"}}},
   {"data": {"name": "c_txt"}, "transform": [{"filter": "datum.k == 'w'"}], "mark": {"type": "text", "fontSize": 16},
    "encoding": {"x": {"field": "T", "type": "quantitative", "title": "T, °C", "scale": {"domain": [20.6, 851], "nice": false, "zero": false}},
                 "y": {"field": "v", "type": "quantitative", "title": "ДТА, °C/г (ДТГ)", "scale": {"domain": [-17.4, 35], "nice": false, "zero": false}}, "text": {"field": "t"}}}
  ]}
 ]
}
]
}
